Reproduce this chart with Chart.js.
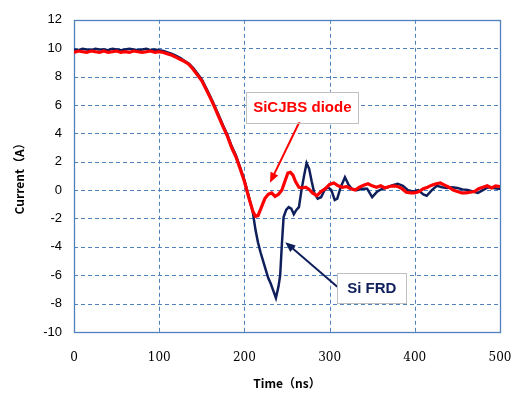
<!DOCTYPE html>
<html>
<head>
<meta charset="utf-8">
<script src="https://cdn.jsdelivr.net/npm/chart.js@4.4.1/dist/chart.umd.min.js"></script>
<style>
  body { margin: 0; background: #fff; }
  #wrap { width: 520px; height: 399px; position: relative; }
</style>
</head>
<body>
<div id="wrap"><canvas id="chart" width="520" height="399"></canvas></div>
<script>
// measured waveforms (ns, A)
const sicTime = [0,5,10,15,20,25,30,35,40,45,50,55,60,65,70,75,80,85,90,95,100,
  105,110,115,120,125,130,135,140,145,150,155,160,165,170,175,180,185,190,195,200,205,210,
  213,216,220,224,228,232,236,240,244,248,251,254,257,260,264,268,272,276,280,285,290,295,
  300,305,310,315,320,325,330,335,340,345,350,355,360,365,370,375,380,385,390,395,400,
  405,410,415,420,425,430,435,440,445,450,455,460,465,470,475,480,485,490,495,500];
const sicCurrent = [9.7,9.8,9.75,9.7,9.8,9.75,9.7,9.8,9.7,9.75,9.8,9.7,9.75,9.7,9.8,9.75,9.7,9.75,9.8,9.7,9.75,
  9.7,9.6,9.5,9.35,9.2,9.05,8.85,8.5,8.1,7.7,7.1,6.5,5.85,5.15,4.45,3.8,3.0,2.35,1.5,0.6,-0.5,-1.5,
  -1.85,-1.8,-1.2,-0.6,-0.3,-0.2,-0.45,-0.3,0.0,0.7,1.2,1.25,1.05,0.6,0.2,0.15,0.2,0.05,-0.2,-0.4,-0.1,0.1,
  0.4,0.5,0.3,0.2,0.25,0.1,0.0,0.2,0.35,0.45,0.3,0.2,0.3,0.15,0.25,0.3,0.25,0.1,-0.15,-0.2,-0.2,
  -0.1,0.1,0.2,0.35,0.45,0.5,0.35,0.2,0.0,-0.1,-0.2,-0.2,-0.15,-0.1,0.1,0.2,0.3,0.15,0.3,0.25];

const frdTime = [0,5,10,15,20,25,30,35,40,45,50,55,60,65,70,75,80,85,90,95,100,
  105,110,115,120,125,130,135,140,145,150,155,160,165,170,175,180,185,190,195,200,205,210,
  213,216,219,222,225,228,231,234,237,240,242,244,246,249,252,255,258,261,264,267,270,273,276,279,282,286,
  290,294,298,302,306,309,313,318,322,326,332,338,344,350,356,362,368,374,380,386,392,398,404,410,414,
  420,426,432,438,444,450,456,462,468,474,480,486,492,498,500];
const frdCurrent = [9.9,9.85,9.95,9.9,9.85,9.95,9.9,9.9,9.85,9.95,9.9,9.85,9.9,9.95,9.9,9.85,9.9,9.95,9.85,9.9,9.85,
  9.8,9.7,9.6,9.45,9.3,9.1,8.9,8.6,8.2,7.8,7.2,6.6,5.95,5.25,4.55,3.9,3.1,2.45,1.6,0.7,-0.4,-1.6,
  -2.8,-3.7,-4.4,-5.0,-5.6,-6.2,-6.6,-7.1,-7.6,-6.8,-6.0,-3.8,-1.9,-1.4,-1.2,-1.3,-1.7,-1.4,-1.2,0.0,1.0,1.9,1.5,0.6,-0.2,-0.6,
  -0.5,0.0,0.2,0.0,-0.7,-0.6,0.2,0.9,0.4,0.1,0.0,0.1,0.1,-0.5,-0.1,0.1,0.2,0.35,0.45,0.3,0.0,-0.1,0.0,-0.3,-0.4,
  0.0,0.3,0.2,0.15,0.2,0.15,0.05,0.0,-0.1,-0.2,0.0,0.2,0.15,0.1,0.1];

const xTicks = [0, 100, 200, 300, 400, 500];
const yTicks = [-10, -8, -6, -4, -2, 0, 2, 4, 6, 8, 10, 12];

const toPoints = (xs, ys) => xs.map((x, i) => ({ x: x, y: ys[i] }));

// callout boxes and arrows, in data units
const callouts = [
  { text: 'SiCJBS diode', color: '#ff0000', box: [202, 334, 6.94, 4.78], arrow: [265, 4.85, 230, 0.52] },
  { text: 'Si FRD', color: '#0f1f5c', box: [309, 390, -5.83, -7.93], arrow: [309, -6.81, 248, -3.67] }
];

const gridBlue = '#4f81bd';

// dashed grid under the curves
const gridPlugin = {
  id: 'dashGrid',
  beforeDatasetsDraw(chart) {
    const { ctx, chartArea: a, scales } = chart;
    ctx.save();
    ctx.strokeStyle = gridBlue;
    ctx.lineWidth = 1;
    ctx.setLineDash([4, 3]);
    xTicks.slice(1, -1).forEach(v => {
      const px = Math.round(scales.x.getPixelForValue(v)) + 0.5;
      ctx.beginPath(); ctx.moveTo(px, a.top); ctx.lineTo(px, a.bottom); ctx.stroke();
    });
    yTicks.slice(1, -1).forEach(v => {
      const py = Math.round(scales.y.getPixelForValue(v)) + 0.5;
      ctx.beginPath(); ctx.moveTo(a.left, py); ctx.lineTo(a.right, py); ctx.stroke();
    });
    ctx.setLineDash([]);
    ctx.lineWidth = 1.3;
    ctx.strokeRect(Math.round(a.left) + 0.5, Math.round(a.top) + 0.5, Math.round(a.right - a.left), Math.round(a.bottom - a.top));
    // short inner ticks on the value axis
    ctx.lineWidth = 1;
    yTicks.forEach(v => {
      const py = Math.round(scales.y.getPixelForValue(v)) + 0.5;
      ctx.beginPath(); ctx.moveTo(a.left, py); ctx.lineTo(a.left + 4, py); ctx.stroke();
    });
    ctx.restore();
  }
};

const calloutPlugin = {
  id: 'callouts',
  afterDraw(chart) {
    const { ctx, scales } = chart;
    const x = scales.x, y = scales.y;
    ctx.save();
    callouts.forEach(c => {
      const x1 = x.getPixelForValue(c.arrow[0]), y1 = y.getPixelForValue(c.arrow[1]);
      const x2 = x.getPixelForValue(c.arrow[2]), y2 = y.getPixelForValue(c.arrow[3]);
      const ang = Math.atan2(y2 - y1, x2 - x1);
      ctx.strokeStyle = c.color;
      ctx.fillStyle = c.color;
      ctx.lineWidth = 2;
      ctx.beginPath();
      ctx.moveTo(x1, y1);
      ctx.lineTo(x2 - 6 * Math.cos(ang), y2 - 6 * Math.sin(ang));
      ctx.stroke();
      ctx.beginPath();
      ctx.moveTo(x2, y2);
      ctx.lineTo(x2 - 11 * Math.cos(ang - 0.4), y2 - 11 * Math.sin(ang - 0.4));
      ctx.lineTo(x2 - 11 * Math.cos(ang + 0.4), y2 - 11 * Math.sin(ang + 0.4));
      ctx.closePath();
      ctx.fill();
      const bl = x.getPixelForValue(c.box[0]), br = x.getPixelForValue(c.box[1]);
      const bt = y.getPixelForValue(c.box[2]), bb = y.getPixelForValue(c.box[3]);
      ctx.fillStyle = '#ffffff';
      ctx.fillRect(bl, bt, br - bl, bb - bt);
      ctx.strokeStyle = '#c0c0c0';
      ctx.lineWidth = 1;
      ctx.strokeRect(Math.round(bl) + 0.5, Math.round(bt) + 0.5, Math.round(br - bl), Math.round(bb - bt));
      ctx.fillStyle = c.color;
      ctx.font = 'bold 15px "Liberation Sans", Arial, sans-serif';
      ctx.textAlign = 'center';
      ctx.textBaseline = 'middle';
      ctx.fillText(c.text, (bl + br) / 2, (bt + bb) / 2 + 1);
    });
    ctx.restore();
  }
};

new Chart(document.getElementById('chart'), {
  type: 'line',
  data: {
    datasets: [
      {
        label: 'SiC JBS diode',
        data: toPoints(sicTime, sicCurrent),
        borderColor: '#ff0000',
        borderWidth: 3.2,
        pointRadius: 0,
        tension: 0,
        fill: false
      },
      {
        label: 'Si FRD',
        data: toPoints(frdTime, frdCurrent),
        borderColor: '#0f1f5c',
        borderWidth: 2.5,
        pointRadius: 0,
        tension: 0,
        fill: false
      }
    ]
  },
  options: {
    responsive: false,
    animation: false,
    layout: { padding: { left: 0, top: 17, right: 20, bottom: 0 } },
    plugins: { legend: { display: false }, tooltip: { enabled: false } },
    scales: {
      x: {
        type: 'linear',
        min: 0,
        max: 500,
        afterBuildTicks: s => { s.ticks = xTicks.map(v => ({ value: v })); },
        afterFit: s => { s.height = 67; s.paddingLeft = 0; s.paddingRight = 0; },
        grid: { display: false, drawTicks: false },
        border: { display: false },
        ticks: {
          color: '#000',
          padding: 19,
          maxRotation: 0,
          font: { family: '"DejaVu Serif", "Liberation Serif", serif', size: 12 }
        },
        title: {
          display: true,
          text: 'Time（ns）',
          color: '#000',
          padding: { top: 0, bottom: 8 },
          font: { family: '"Noto Sans CJK SC", "Liberation Sans", sans-serif', size: 12, weight: 'bold' }
        }
      },
      y: {
        min: -10,
        max: 12,
        afterBuildTicks: s => { s.ticks = yTicks.map(v => ({ value: v })); },
        afterFit: s => { s.width = 74; },
        grid: { display: false, drawTicks: false },
        border: { display: false },
        ticks: {
          color: '#000',
          padding: 12,
          font: { family: '"Liberation Sans", Arial, sans-serif', size: 13 }
        },
        title: {
          display: true,
          text: 'Current（A）',
          color: '#000',
          padding: { top: 12, bottom: 0 },
          font: { family: '"Noto Sans CJK SC", "Liberation Sans", sans-serif', size: 12, weight: 'bold' }
        }
      }
    }
  },
  plugins: [gridPlugin, calloutPlugin]
});
</script>
</body>
</html>
